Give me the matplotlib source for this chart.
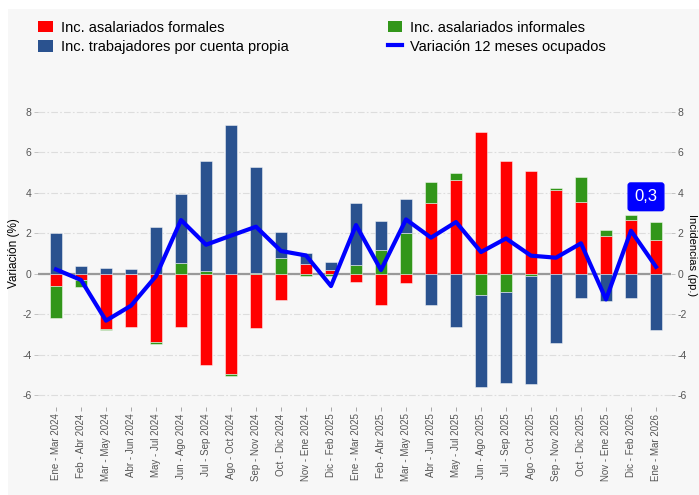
import matplotlib
matplotlib.use("Agg")
import matplotlib.pyplot as plt
from matplotlib.patches import Patch, Rectangle
from matplotlib.lines import Line2D
import numpy as np

plt.rcParams["font.family"] = ["Liberation Sans", "DejaVu Sans"]

periodos = [
    "Ene - Mar 2024", "Feb - Abr 2024", "Mar - May 2024", "Abr - Jun 2024",
    "May - Jul 2024", "Jun - Ago 2024", "Jul - Sep 2024", "Ago - Oct 2024",
    "Sep - Nov 2024", "Oct - Dic 2024", "Nov - Ene 2024", "Dic - Feb 2025",
    "Ene - Mar 2025", "Feb - Abr 2025", "Mar - May 2025", "Abr - Jun 2025",
    "May - Jul 2025", "Jun - Ago 2025", "Jul - Sep 2025", "Ago - Oct 2025",
    "Sep - Nov 2025", "Oct - Dic 2025", "Nov - Ene 2025", "Dic - Feb 2026",
    "Ene - Mar 2026",
]

# incidencias (pp.)
formales = [-0.61, -0.31, -2.75, -2.62, -3.37, -2.65, -4.53, -4.95, -2.70, -1.30,
            0.48, 0.20, -0.41, -1.56, -0.48, 3.49, 4.64, 6.98, 5.56, 5.09,
            4.13, 3.56, 1.86, 2.65, 1.68]
informales = [-1.60, -0.33, -0.03, 0.00, -0.08, 0.51, 0.13, -0.10, 0.03, 0.76,
              -0.10, -0.10, 0.43, 1.17, 1.99, 1.02, 0.33, -1.07, -0.89, -0.10,
              0.10, 1.21, 0.30, 0.25, 0.87]
cuenta_propia = [2.00, 0.38, 0.26, 0.23, 2.30, 3.42, 5.42, 7.36, 5.23, 1.30,
                 0.54, 0.39, 3.06, 1.43, 1.71, -1.55, -2.62, -4.53, -4.51, -5.35,
                 -3.42, -1.22, -1.35, -1.19, -2.78]

# variación 12 meses ocupados (%)
ocupados = [0.21, -0.31, -2.32, -1.58, -0.12, 2.65, 1.43, 1.88, 2.32, 1.12,
            0.90, -0.61, 2.40, 0.18, 2.68, 1.78, 2.55, 1.07, 1.74, 0.89,
            0.79, 1.50, -1.27, 2.12, 0.34]

yticks = [-6, -4, -2, 0, 2, 4, 6, 8]

c_red = "#FF0000"
c_green = "#32961A"
c_blue = "#2A528F"
c_line = "#0000FF"
bg = "#F7F7F7"

fig = plt.figure(figsize=(6.99, 4.95), dpi=100)
fig.patch.set_facecolor("white")
fig.patches.append(Rectangle((8 / 699, 0), 1, 1 - 9 / 495, transform=fig.transFigure,
                             facecolor=bg, edgecolor="none", zorder=-10))

ax = fig.add_axes([38 / 699, 0.1771, (671 - 38) / 699, 0.7989 - 0.1771])
ax.set_facecolor(bg)
for s in ax.spines.values():
    s.set_visible(False)

x = np.arange(len(periodos))
pos_base = np.zeros(len(x))
neg_base = np.zeros(len(x))
for vals, col in [(formales, c_red), (informales, c_green), (cuenta_propia, c_blue)]:
    v = np.array(vals)
    bottoms = np.where(v >= 0, pos_base, neg_base)
    ax.bar(x, v, width=0.5, bottom=bottoms, color=col,
           edgecolor=(1, 1, 1, 0.55), linewidth=0.6, zorder=3)
    pos_base += np.where(v >= 0, v, 0)
    neg_base += np.where(v < 0, v, 0)

ax.axhline(0, color="#999999", lw=1.6, zorder=2)
ax.plot(x, ocupados, color=c_line, lw=3, zorder=5)

# etiqueta del último dato
last = ocupados[-1]
ax.annotate(f"{last:.1f}".replace(".", ","), xy=(x[-1], last), xytext=(-10, 70),
            textcoords="offset pixels", ha="center", va="center",
            color="white", fontsize=12,
            bbox=dict(boxstyle="round,pad=0.38,rounding_size=0.15",
                      fc=c_line, ec=c_line), zorder=6)

ax.set_xlim(-0.72, 24.6)
ax.set_ylim(-6.6, 8.6)
ax.set_yticks(yticks)
ax.set_yticklabels([str(t) for t in yticks])
ax.grid(axis="y", color="#DDDDDD", lw=0.8, linestyle=(0, (6, 2, 1.5, 2)), zorder=0)
ax.set_xticks(x)
ax.set_xticklabels(periodos, rotation=90, fontsize=7, color="#555555")
ax.tick_params(axis="x", length=3, width=0.6, color="#999999", pad=1.5)
ax.tick_params(axis="y", length=3, width=0.6, color="#BBBBBB", labelsize=7.5,
               labelcolor="#555555", pad=1.5, right=True, labelright=True)
ax.set_ylabel("Variación (%)", fontsize=8.5, labelpad=2)

fig.text(687 / 699, 1 - 255 / 495, "Incidencias (pp.)", rotation=270,
         ha="left", va="center", fontsize=8)

handles = [
    Patch(facecolor=c_red, edgecolor="none"),
    Patch(facecolor=c_blue, edgecolor="none"),
    Patch(facecolor=c_green, edgecolor="none"),
    Line2D([0], [0], color=c_line, lw=3),
]
labels = ["Inc. asalariados formales", "Inc. trabajadores por cuenta propia",
          "Inc. asalariados informales", "Variación 12 meses ocupados"]
fig.legend(handles, labels, ncol=2, loc="upper left",
           bbox_to_anchor=(38 / 699, 1 - 20.5 / 495), frameon=False,
           fontsize=10.5, borderpad=0, borderaxespad=0, handlelength=1.0,
           handleheight=0.85, handletextpad=0.55, columnspacing=6.8,
           labelspacing=0.37)

fig.savefig("out.png", dpi=100, facecolor=fig.get_facecolor())
